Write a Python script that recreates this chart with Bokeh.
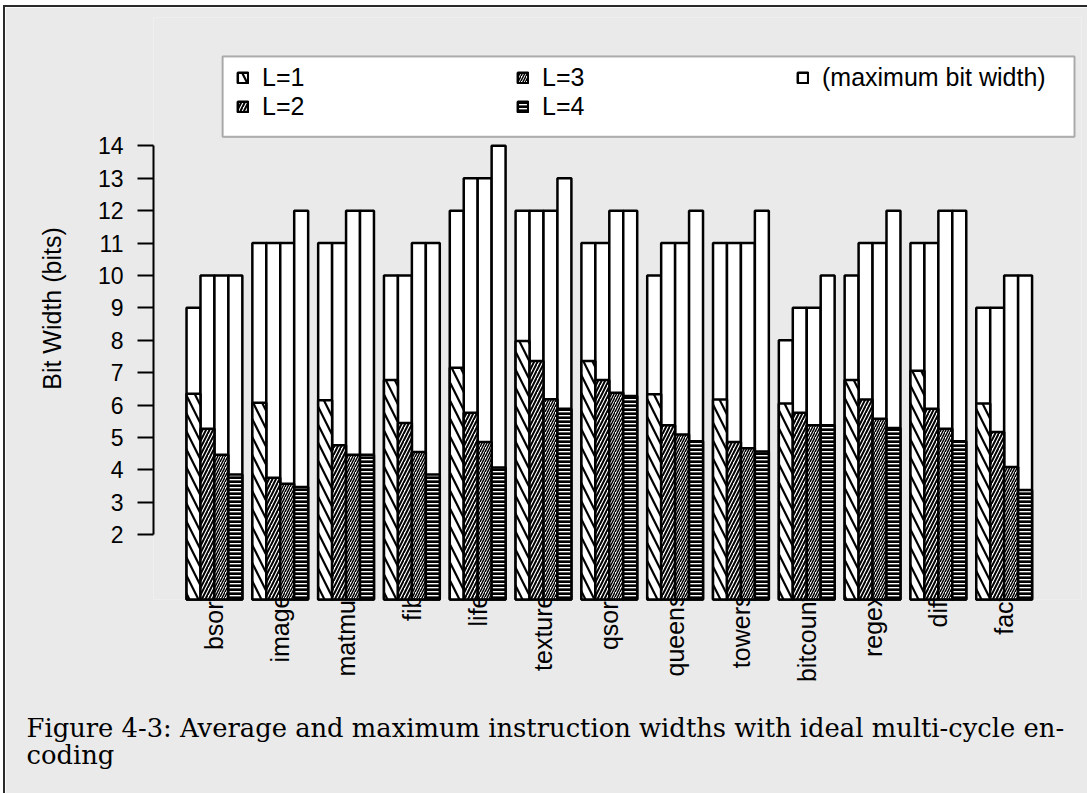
import math
from bokeh.plotting import figure
from bokeh.models import FixedTicker, Legend, LegendItem, Range1d, BoxAnnotation, Title
from bokeh.embed import file_html
from bokeh.resources import INLINE

# ---------------- data ----------------
benchmarks = ["bsort", "image", "matmul", "fib", "life", "texture", "qsort",
              "queens", "towers", "bitcount", "regex", "diff", "fact"]
level_labels = ["L=1", "L=2", "L=3", "L=4"]
max_label = "(maximum bit width)"

# average instruction width (bits)
avg_L1 = [6.35, 6.07, 6.15, 6.77, 7.15, 7.98, 7.36, 6.33, 6.17, 6.05, 6.77, 7.06, 6.05]
avg_L2 = [5.27, 3.76, 4.76, 5.45, 5.76, 7.36, 6.77, 5.38, 4.86, 5.76, 6.17, 5.89, 5.17]
avg_L3 = [4.47, 3.57, 4.47, 4.55, 4.86, 6.18, 6.38, 5.09, 4.67, 5.38, 5.58, 5.27, 4.09]
avg_L4 = [3.86, 3.47, 4.47, 3.86, 4.07, 5.89, 6.28, 4.88, 4.57, 5.38, 5.29, 4.88, 3.38]

# maximum instruction width (bits)
max_L1 = [9, 11, 11, 10, 12, 12, 11, 10, 11, 8, 10, 11, 9]
max_L2 = [10, 11, 11, 10, 13, 12, 11, 11, 11, 9, 11, 11, 9]
max_L3 = [10, 11, 12, 11, 13, 12, 12, 11, 11, 9, 11, 12, 10]
max_L4 = [10, 12, 12, 11, 14, 13, 12, 12, 12, 10, 12, 12, 10]

y_ticks = [2, 3, 4, 5, 6, 7, 8, 9, 10, 11, 12, 13, 14]
y_label = "Bit Width (bits)"
caption = ["Figure 4-3: Average and maximum instruction widths with ideal multi-cycle en-",
           "coding"]

# ---------------- styling ----------------
PAPER = "#eaeaea"
SANS = "Liberation Sans"
SERIF = "DejaVu Serif"
BAR_W = 0.212
hatch_styles = [
    dict(hatch_pattern="\\", hatch_scale=18, hatch_weight=2.2),
    dict(hatch_pattern="/", hatch_scale=7, hatch_weight=2.0),
    dict(hatch_pattern="/", hatch_scale=5, hatch_weight=1.5),
    dict(hatch_pattern="-", hatch_scale=4, hatch_weight=3.3),
]

p = figure(width=1084, height=788, output_backend="svg", toolbar_location=None,
           x_range=Range1d(-0.926, 13.175), y_range=Range1d(0, 17.96),
           min_border_left=148, min_border_right=8, min_border_top=10,
           min_border_bottom=196,
           background_fill_color=PAPER, border_fill_color=PAPER,
           outline_line_color=None,
           styles={"border-left": "2px solid #2a2a2a", "border-top": "2px solid #2a2a2a",
                   "margin-left": "3px", "margin-top": "5px"})
p.grid.visible = False

avgs = [avg_L1, avg_L2, avg_L3, avg_L4]
maxs = [max_L1, max_L2, max_L3, max_L4]
idx = list(range(len(benchmarks)))

max_renderers = []
for j, mx in enumerate(maxs):
    off = (j - 1.5) * BAR_W
    r = p.vbar(x=[i + off for i in idx], top=mx, bottom=0, width=BAR_W,
               fill_color="white", line_color="black", line_width=2.5)
    r.level = "overlay"
    max_renderers.append(r)

avg_renderers = []
for j, av in enumerate(avgs):
    off = (j - 1.5) * BAR_W
    r = p.vbar(x=[i + off for i in idx], top=av, bottom=0, width=BAR_W,
               fill_color="white", line_color="black", line_width=2.5,
               hatch_color="black", **hatch_styles[j])
    r.level = "overlay"
    avg_renderers.append(r)

# x axis: benchmark names, rotated
xa = p.xaxis[0]
xa.ticker = FixedTicker(ticks=idx)
xa.major_label_overrides = {i: b for i, b in zip(idx, benchmarks)}
xa.major_label_orientation = math.pi / 2
xa.axis_line_color = None
xa.major_tick_line_color = None
xa.minor_tick_line_color = None
xa.major_tick_out = 0
xa.major_tick_in = 0
xa.major_label_standoff = -5
xa.major_label_text_font = SANS
xa.major_label_text_font_size = "25px"
xa.major_label_text_color = "black"

# y axis
ya = p.yaxis[0]
ya.ticker = FixedTicker(ticks=y_ticks)
ya.bounds = (min(y_ticks), max(y_ticks))
ya.axis_line_width = 2
ya.axis_line_color = "black"
ya.major_tick_line_width = 2
ya.major_tick_out = 16
ya.major_tick_in = 0
ya.minor_tick_line_color = None
ya.major_label_standoff = 14
ya.major_label_text_font = SANS
ya.major_label_text_font_size = "23px"
ya.major_label_text_color = "black"
ya.axis_label = y_label
ya.axis_label_text_font = SANS
ya.axis_label_text_font_size = "25px"
ya.axis_label_text_font_style = "normal"
ya.axis_label_text_color = "black"
ya.axis_label_standoff = 29

# legend box + two legend rows
p.add_layout(BoxAnnotation(left=0.125, right=13.068, top=16.757, bottom=14.278,
                           fill_color="white", fill_alpha=1.0,
                           line_color="black", line_width=2))
row1 = [LegendItem(label=level_labels[0], renderers=[avg_renderers[0]]),
        LegendItem(label=level_labels[2], renderers=[avg_renderers[2]]),
        LegendItem(label=max_label, renderers=[max_renderers[0]])]
row2 = [LegendItem(label=level_labels[1], renderers=[avg_renderers[1]]),
        LegendItem(label=level_labels[3], renderers=[avg_renderers[3]])]
for items, loc in ((row1, (83, 507)), (row2, (83, 478))):
    p.add_layout(Legend(items=items, location=loc, orientation="horizontal",
                        glyph_width=13, glyph_height=13, label_standoff=13,
                        label_width=254, spacing=0, padding=0, margin=0,
                        border_line_color=None, background_fill_alpha=0.0,
                        label_text_font=SANS, label_text_font_size="25px",
                        label_text_color="black"))

# caption (two lines below the axis)
p.add_layout(Title(text="\n".join(caption), align="left", offset=-127,
                   standoff=51, text_line_height=0.9,
                   text_font=SERIF, text_font_size="25.8px",
                   text_font_style="normal", text_color="black"), "below")

open("out.html", "w").write(file_html(p, INLINE))
